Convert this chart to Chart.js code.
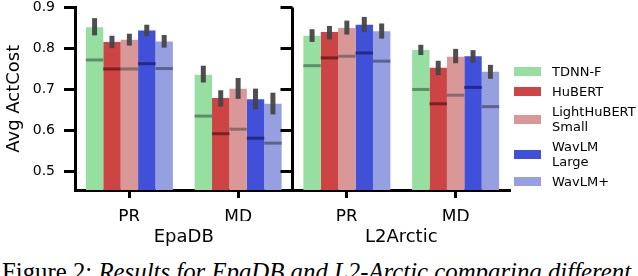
<!DOCTYPE html>
<html>
<head>
<meta charset="utf-8">
<script src="https://cdn.jsdelivr.net/npm/chart.js@4.4.1/dist/chart.umd.min.js"></script>
<style>
  body { margin: 0; width: 638px; height: 276px; overflow: hidden; background: #fff; position: relative; }
  #chart { position: absolute; left: 0; top: 0; }
  #legend { position: absolute; left: 514px; top: 64px; display: flex; flex-direction: column; gap: 5px;
            font: 13px "DejaVu Sans"; line-height: 15px; color: #000; }
  .item { display: flex; align-items: center; }
  .patch { width: 27px; height: 9px; margin-right: 11px; }
  .txt { white-space: pre-line; }
  #caption { position: absolute; left: 2px; top: 257.5px; font: 24.8px "Liberation Serif"; line-height: 28px; white-space: nowrap; color: #000; }
</style>
</head>
<body>
<canvas id="chart" width="638" height="250"></canvas>
<div id="legend"></div>
<div id="caption">Figure 2: <i>Results for EpaDB and L2-Arctic comparing different</i></div>
<script>
// x categories: PR / MD for each database
const categories = ['PR', 'MD', 'PR', 'MD'];
const databases = ['EpaDB', 'L2Arctic'];
const models = ['TDNN-F', 'HuBERT', 'LightHuBERT\nSmall', 'WavLM\nLarge', 'WavLM+'];
const yTicks = [0.5, 0.6, 0.7, 0.8, 0.9];

// bar heights (Avg ActCost)
const tdnnF       = [0.852, 0.736, 0.831, 0.796];
const hubert      = [0.816, 0.679, 0.840, 0.753];
const lightHubert = [0.821, 0.702, 0.850, 0.780];
const wavlmLarge  = [0.844, 0.676, 0.858, 0.781];
const wavlmPlus   = [0.817, 0.665, 0.842, 0.743];

// error bar ends
const errLow = [
  [0.832, 0.717, 0.816, 0.784],
  [0.801, 0.658, 0.822, 0.735],
  [0.807, 0.677, 0.834, 0.764],
  [0.830, 0.651, 0.840, 0.765],
  [0.802, 0.639, 0.824, 0.726]
];
const errHigh = [
  [0.874, 0.758, 0.847, 0.809],
  [0.831, 0.698, 0.855, 0.770],
  [0.836, 0.728, 0.868, 0.799],
  [0.858, 0.702, 0.877, 0.796],
  [0.833, 0.692, 0.861, 0.760]
];
// horizontal line inside each bar
const innerLine = [
  [0.772, 0.635, 0.758, 0.700],
  [0.750, 0.592, 0.777, 0.665],
  [0.750, 0.603, 0.781, 0.686],
  [0.763, 0.581, 0.789, 0.705],
  [0.751, 0.569, 0.769, 0.658]
];

const colors = ['#97dfa0', '#cc4444', '#d99797', '#4150d8', '#96a0e0'];
const lineColors = ['#5e8e66', '#7a2222', '#8a6a6a', '#222c88', '#5c6290'];
const series = [tdnnF, hubert, lightHubert, wavlmLarge, wavlmPlus];

const markers = {
  id: 'markers',
  afterDatasetsDraw(chart) {
    const ctx = chart.ctx, y = chart.scales.y;
    chart.data.datasets.forEach((ds, i) => {
      chart.getDatasetMeta(i).data.forEach((bar, j) => {
        const half = bar.width / 2;
        ctx.save();
        ctx.strokeStyle = lineColors[i];
        ctx.lineWidth = 3;
        const ly = y.getPixelForValue(innerLine[i][j]);
        ctx.beginPath();
        ctx.moveTo(bar.x - half, ly);
        ctx.lineTo(bar.x + half, ly);
        ctx.stroke();
        const top = y.getPixelForValue(errHigh[i][j]);
        const bot = y.getPixelForValue(errLow[i][j]);
        ctx.fillStyle = 'rgba(70,70,70,0.95)';
        ctx.fillRect(bar.x - 2.5, top, 5, bot - top);
        ctx.restore();
      });
    });
  },
  afterDraw(chart) {
    // spine between the two panels
    const ctx = chart.ctx, y = chart.scales.y, area = chart.chartArea;
    const x = chart.scales.x.getPixelForValue(1.5);
    ctx.save();
    ctx.strokeStyle = '#000';
    ctx.lineWidth = 3;
    ctx.beginPath();
    ctx.moveTo(x, area.top);
    ctx.lineTo(x, area.bottom + 1.5);
    yTicks.forEach(v => {
      const py = y.getPixelForValue(v);
      ctx.moveTo(x - 12, py);
      ctx.lineTo(x, py);
    });
    ctx.stroke();
    ctx.restore();
  }
};

new Chart(document.getElementById('chart'), {
  type: 'bar',
  data: {
    labels: categories,
    datasets: series.map((d, i) => ({
      label: models[i],
      data: d,
      backgroundColor: colors[i],
      borderWidth: 0,
      categoryPercentage: 0.8,
      barPercentage: 1.0
    }))
  },
  options: {
    responsive: false,
    animation: false,
    devicePixelRatio: 1,
    layout: { padding: { left: 0, right: 128, top: 7.5, bottom: 0 } },
    plugins: { legend: { display: false }, tooltip: { enabled: false } },
    scales: {
      y: {
        min: 0.4546,
        max: 0.9,
        afterFit: s => { s.width = 75; s.paddingTop = 0; s.paddingBottom = 0; },
        afterBuildTicks: s => { s.ticks = yTicks.map(v => ({ value: v })); },
        border: { display: true, color: '#000', width: 3 },
        grid: { drawOnChartArea: false, tickLength: 11, tickWidth: 3, tickColor: '#000' },
        ticks: { color: '#000', font: { family: 'DejaVu Sans', size: 14 }, padding: 9,
                 callback: v => v.toFixed(1) },
        title: { display: true, text: 'Avg ActCost', color: '#000',
                 font: { family: 'DejaVu Sans', size: 18 }, padding: { top: 4, bottom: 0 } }
      },
      x: {
        weight: 0,
        afterFit: s => { s.height = 31; s.paddingLeft = 0; s.paddingRight = 0; },
        border: { display: true, color: '#000', width: 3 },
        grid: { offset: false, drawOnChartArea: false, tickLength: 8, tickWidth: 3, tickColor: '#000' },
        ticks: { color: '#000', font: { family: 'DejaVu Sans', size: 17 }, padding: 9 }
      },
      x2: {
        type: 'category',
        labels: databases,
        position: 'bottom',
        weight: 1,
        offset: true,
        afterFit: s => { s.height = 29; s.paddingLeft = 0; s.paddingRight = 0; },
        border: { display: false },
        grid: { display: false, drawTicks: false },
        ticks: { color: '#000', font: { family: 'DejaVu Sans', size: 18 }, padding: 6 }
      }
    }
  },
  plugins: [markers]
});

const legend = document.getElementById('legend');
models.forEach((m, i) => {
  const item = document.createElement('div');
  item.className = 'item';
  item.innerHTML = '<span class="patch" style="background:' + colors[i] + '"></span><span class="txt"></span>';
  item.querySelector('.txt').textContent = m;
  legend.appendChild(item);
});
</script>
</body>
</html>
